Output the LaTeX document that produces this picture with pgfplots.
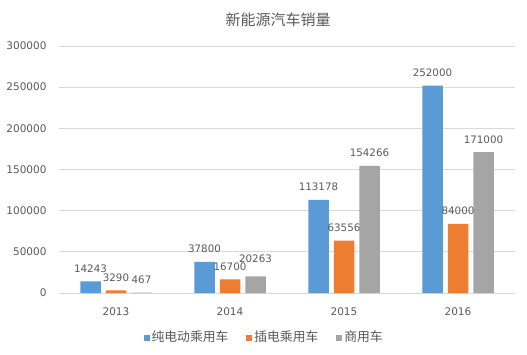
\documentclass[border=0pt]{standalone}
\usepackage{fontspec}
\setmainfont{DejaVu Sans}
\newfontfamily\cjk{Noto Sans CJK SC}
\usepackage{pgfplots}
\pgfplotsset{compat=1.18}
\definecolor{cblue}{HTML}{5B9BD5}
\definecolor{corange}{HTML}{ED7D31}
\definecolor{cgray}{HTML}{A5A5A5}
\definecolor{tgray}{HTML}{595959}
\definecolor{lgray}{HTML}{D9D9D9}
\begin{document}
\begin{tikzpicture}
\useasboundingbox (-59bp,-62bp) rectangle (468bp,293bp);
\node[font=\cjk\fontsize{15bp}{17bp}\selectfont, text=tgray] at (219bp,273bp) {新能源汽车销量};
\begin{axis}[
  at={(0,0)}, anchor=south west,
  scale only axis, width=456bp, height=247bp,
  xmin=-0.5, xmax=3.5, ymin=0, ymax=300000,
  ybar=5bp, bar width=20.5bp,
  xtick=data, xticklabels={2013,2014,2015,2016},
  ytick={0,50000,...,300000},
  scaled y ticks=false,
  /pgf/number format/assume math mode=true,
  yticklabel={\pgfmathprintnumber[fixed,1000 sep={}]{\tick}},
  tick label style={font=\fontsize{10.5bp}{12bp}\selectfont, text=tgray},
  xticklabel style={yshift=-11bp},
  yticklabel style={xshift=-9bp},
  major tick length=0pt,
  ymajorgrids, grid style={lgray, line width=0.8pt},
  axis x line*=bottom, axis y line*=left,
  y axis line style={draw=none},
  x axis line style={lgray, line width=0.8pt, -},
  nodes near coords,
  nodes near coords style={font=\fontsize{10.3bp}{12bp}\selectfont, text=tgray, yshift=5.5bp, /pgf/number format/.cd, fixed, 1000 sep={}, assume math mode=true},
  legend style={at={(0.45,-0.178)}, anchor=center, draw=none, fill=none, legend columns=3,
    font=\cjk\fontsize{12.8bp}{14bp}\selectfont, text=tgray,
    /tikz/every even column/.append style={column sep=16bp},
    /tikz/every odd column/.append style={column sep=0bp}},
  legend image code/.code={\path[#1, draw=none] (0bp,-4.5bp) rectangle (6bp,1.5bp);},
  clip=false,
]
\addplot[fill=cblue, draw=none] coordinates {(0,14243) (1,37800) (2,113178) (3,252000)};
\addplot[fill=corange, draw=none] coordinates {(0,3290) (1,16700) (2,63556) (3,84000)};
\addplot[fill=cgray, draw=none, coordinate style/.condition={x==1}{yshift=5bp}] coordinates {(0,467) (1,20263) (2,154266) (3,171000)};
\legend{纯电动乘用车,插电乘用车,商用车}
\end{axis}
\end{tikzpicture}
\end{document}
